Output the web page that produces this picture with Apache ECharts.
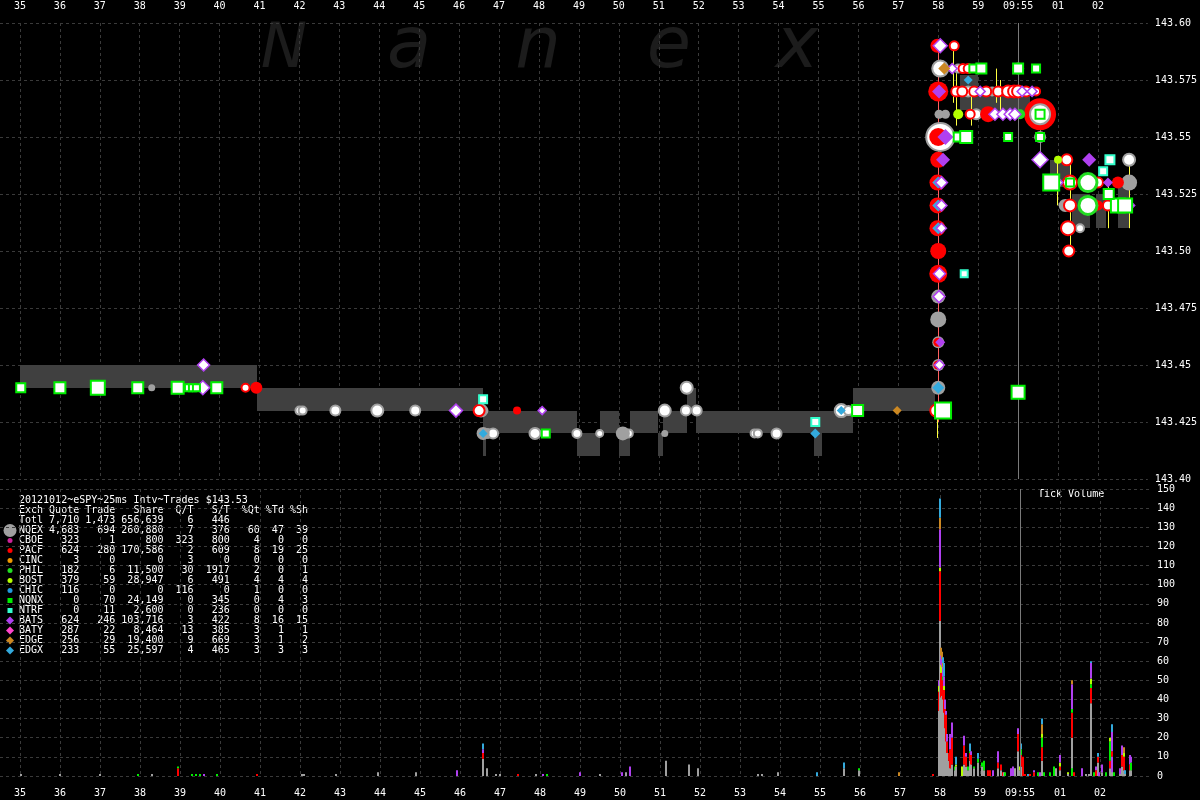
<!DOCTYPE html>
<html><head><meta charset="utf-8">
<script src="https://cdn.jsdelivr.net/npm/echarts@6/dist/echarts.min.js"></script>
<style>html,body{margin:0;background:#000}#c{width:1200px;height:800px}</style>
</head><body><div id="c"></div>
<script>
// ---------- axis ticks ----------
const secondTicks = [35,36,37,38,39,40,41,42,43,44,45,46,47,48,49,50,51,52,53,54,55,56,57,58,59,60,61,62];
const tickLabels  = ['35','36','37','38','39','40','41','42','43','44','45','46','47','48','49','50','51','52','53','54','55','56','57','58','59','09:55','01','02'];

// ---------- NBBO band (seconds after 09:54) ----------
const nbboStart = [35.0,40.925,46.6,46.675,48.95,49.525,50.0,50.275,50.975,51.1,51.7,51.925,54.9,55.1,55.875,58.55,59.0,60.8,61.35,61.95,62.5];
const nbboEnd   = [40.925,46.6,46.675,48.95,49.525,50.0,50.275,50.975,51.1,51.7,51.925,54.9,55.1,55.875,57.925,59.0,60.3,61.3,61.8,62.2,62.8];
const nbboBid   = [143.44,143.43,143.41,143.42,143.41,143.42,143.41,143.42,143.41,143.42,143.43,143.42,143.41,143.42,143.43,143.562,143.560,143.528,143.51,143.51,143.51];
const nbboAsk   = [143.45,143.44,143.43,143.43,143.42,143.43,143.42,143.43,143.42,143.43,143.44,143.43,143.43,143.43,143.44,143.577,143.568,143.54,143.525,143.525,143.528];

// ---------- trades [time, price, tradeSizeClass] ----------
const nqexTrades = [[42.0,143.43,8],[42.08,143.43,8],[42.9,143.43,10],[43.95,143.43,12],[44.9,143.43,10],
 [46.72,143.42,9],[46.85,143.42,10],[47.9,143.42,11],[48.95,143.42,9],[49.52,143.42,7],[50.25,143.42,8],
 [51.15,143.43,12],[51.7,143.44,12],[51.68,143.43,10],[51.95,143.43,10],[53.4,143.42,8],[53.48,143.42,8],[53.95,143.42,10],
 [55.57,143.43,13],[55.75,143.43,9],[58.05,143.58,16],[58.05,143.55,28],[58.5,143.58,8],[58.75,143.57,10],[58.95,143.56,10],
 [60.55,143.56,20],[61.55,143.51,8],[62.78,143.54,12],[46.55,143.43,12]];
const nqexQuotes = [[38.3,143.44,7],[46.62,143.43,9],[46.6,143.42,13],[50.1,143.42,14],[51.15,143.42,7],[58.02,143.56,9],[58.18,143.56,9],
 [58.0,143.48,14],[58.0,143.47,16],[58.0,143.46,12],[58.0,143.45,12],[58.0,143.44,14],[59.35,143.57,10],[60.0,143.58,12],
 [60.55,143.55,12],[61.18,143.52,13],[62.78,143.53,16],[61.9,143.53,10]];
const pacfFilled = [[40.92,143.44,12],[47.45,143.43,8],[57.98,143.59,14],[58.0,143.57,20],[58.0,143.55,18],[58.0,143.54,16],
 [57.98,143.53,16],[57.98,143.52,16],[57.98,143.51,16],[58.0,143.50,16],[58.0,143.49,18],[57.99,143.46,9],[57.99,143.45,9],
 [59.25,143.56,16],[59.6,143.57,10],[62.0,143.52,10],[62.5,143.53,12]];
const pacfBig = [[60.55,143.56,32]];
const pacfTrades = [[40.65,143.44,8],[46.5,143.43,11],[57.95,143.43,12],[58.4,143.59,9],[58.45,143.57,10],[58.6,143.57,10],[58.9,143.57,10],
 [59.2,143.57,10],[59.5,143.57,10],[59.75,143.57,12],[59.9,143.57,12],[60.0,143.57,12],[60.2,143.57,10],[60.45,143.57,8],
 [58.62,143.58,9],[58.75,143.58,9],[58.8,143.56,9],[61.22,143.54,11],[61.3,143.53,14],[61.3,143.52,12],[61.88,143.52,12],
 [62.25,143.52,10],[61.25,143.51,14],[61.27,143.50,11],[62.0,143.53,10],[38.95,143.44,7]];
const philTrades = [[61.75,143.53,18],[61.75,143.52,18]];
const philFilled = [[60.05,143.56,10]];
const bostFilled = [[58.5,143.56,10],[61.0,143.54,8]];
const batsTrades = [[39.6,143.45,12],[39.58,143.44,14],[45.92,143.43,13],[48.08,143.43,8],[58.05,143.59,14],[58.08,143.53,12],
 [58.08,143.52,11],[58.08,143.51,10],[58.03,143.49,12],[58.02,143.48,12],[58.03,143.45,10],[59.05,143.57,10],[60.1,143.57,10],
 [60.35,143.57,10],[58.35,143.58,10],[59.0,143.58,10],[59.42,143.56,12],[59.62,143.56,12],[59.8,143.56,12],[59.92,143.56,12],
 [60.55,143.54,16],[61.0,143.53,10],[62.82,143.52,8]];
const batsFilled = [[58.02,143.57,14],[58.18,143.55,16],[58.12,143.54,14],[58.05,143.46,10],[61.78,143.54,14],[62.25,143.53,10]];
const edgxFilled = [[46.6,143.42,9],[54.92,143.42,10],[55.57,143.43,9],[58.0,143.44,12],[58.0,143.53,12],[58.0,143.52,12],[58.0,143.51,12],[58.75,143.575,9]];
const edgeFilled = [[56.97,143.43,9],[58.15,143.58,12]];
const nqnxTrades = [[35.02,143.44,9],[36.0,143.44,11],[36.95,143.44,14],[37.95,143.44,11],[38.95,143.44,12],[39.22,143.44,7],
 [39.32,143.44,7],[39.42,143.44,7],[39.93,143.44,11],[48.17,143.42,8],[55.98,143.43,11],[58.12,143.43,16],[58.5,143.55,9],
 [58.7,143.55,12],[58.88,143.58,8],[59.08,143.58,10],[59.75,143.55,8],[60.0,143.58,10],[60.45,143.58,8],[60.55,143.56,9],
 [60.55,143.55,8],[60.0,143.438,13],[60.83,143.53,16],[61.3,143.53,8],[62.5,143.52,14],[62.68,143.52,14],[62.27,143.525,10]];
const ntrfTrades = [[46.6,143.435,8],[54.92,143.425,8],[58.65,143.49,7],[62.3,143.54,9],[62.13,143.535,8]];

// ---------- vertical trade links [time, low, high] ----------
const bostLinks = [[58.375,143.565,143.589],[58.45,143.555,143.578],[58.82,143.555,143.568],[59.45,143.565,143.58],[59.55,143.56,143.575],
 [60.975,143.52,143.54],[61.3,143.50,143.54],[62.25,143.51,143.53],[62.775,143.51,143.54],[57.98,143.418,143.428]];
const pacfLinks = [[58.0,143.425,143.59]];
const nqexLinks = [[60.0,143.55,143.58],[60.55,143.54,143.555]];

// ---------- tick volume per exchange [time, count] ----------
const volNQEX = [[35.02,1],[36.0,1],[37.01,1],[38.3,1],[42.05,1],[42.1,1],[42.9,1],[43.95,2],[44.9,2],[46.58,9],[46.68,4],[46.9,1],[47.0,1],[47.9,1],[49.5,1],[50.15,2],[51.15,8],[51.72,6],[51.95,4],[53.45,1],[53.55,1],[53.95,2],[55.6,4],[55.98,3],
 [57.98,34],[58.0,81],[58.03,41],[58.05,42],[58.08,40],[58.1,33],[58.12,25],[58.15,18],[58.18,12],[58.22,8],[58.26,4],[58.3,6],[58.38,3],[58.4,5],[58.61,6],[58.64,5],[58.69,3],[58.74,8],[58.78,6],[58.86,4],[58.95,7],[59.04,5],[59.1,3],[59.46,4],[59.52,3],[59.6,2],[59.88,4],[59.94,13],[59.99,3],[60.03,5],[60.55,8],[60.91,4],[61.01,3],[61.21,1],[61.29,20],[61.65,1],[61.73,1],[61.78,38],[61.94,7],[62.04,2],[62.26,4],[62.29,10],[62.31,2],[62.51,1],[62.54,5],[62.59,3],[62.63,1],[62.74,3],[62.78,3]];
const volPACF = [[38.95,4],[40.92,1],[46.58,3],[47.45,1],[57.83,1],[57.98,10],[58.0,26],[58.03,13],[58.05,12],[58.08,10],[58.1,12],[58.12,10],[58.15,14],[58.18,6],[58.22,4],[58.26,10],[58.3,14],[58.61,10],[58.64,5],[58.74,4],[58.78,5],[59.2,3],[59.25,3],[59.46,3],[59.52,3],[59.58,2],[59.94,9],[60.03,6],[60.08,10],[60.13,1],[60.25,1],[60.35,2],[60.55,7],[61.01,2],[61.29,13],[61.35,2],[61.78,8],[61.9,3],[61.94,3],[62.26,4],[62.29,3],[62.54,6],[62.59,7],[62.74,3]];
const volGreen = [[37.95,1],[38.95,1],[39.3,1],[39.4,1],[39.5,1],[39.93,1],[48.17,1],[55.98,1],[58.08,2],[58.38,2],[58.69,2],[58.74,1],[58.86,1],[58.95,2],[59.04,2],[59.1,5],[59.63,2],[60.03,3],[60.45,2],[60.55,5],[60.6,2],[60.76,2],[60.86,5],[61.29,2],[61.31,4],[61.78,2],[61.84,2],[62.14,2],[62.26,10],[62.36,2],[62.78,4]];
const volBOST = [[57.98,3],[58.0,2],[58.03,4],[58.05,3],[58.1,2],[58.4,1],[58.54,5],[59.99,2],[60.55,2],[61.01,2],[61.21,1],[61.78,3],[62.24,1],[62.26,2],[62.59,2]];
const volBATS = [[39.6,1],[45.92,3],[46.58,2],[48.08,1],[49.0,2],[50.05,2],[50.25,5],[57.98,3],[58.0,20],[58.03,5],[58.05,4],[58.08,5],[58.1,5],[58.12,5],[58.15,2],[58.18,4],[58.26,8],[58.3,8],[58.61,5],[58.64,2],[58.78,2],[59.33,3],[59.46,6],[59.78,4],[59.83,5],[59.94,3],[60.35,1],[60.51,2],[61.01,4],[61.29,13],[61.55,4],[61.78,8],[61.9,2],[61.98,2],[62.04,4],[62.29,10],[62.31,8],[62.51,3],[62.54,5],[62.74,5],[62.78,3]];
const volEDGE = [[56.97,2],[58.0,6],[58.03,4],[58.05,4],[58.08,2],[60.55,5],[61.29,2],[62.59,3]];
const volEDGX = [[46.58,3],[54.92,2],[55.6,3],[58.0,10],[58.08,3],[58.1,7],[58.4,4],[58.74,4],[58.95,3],[60.03,3],[60.19,1],[60.55,3],[61.78,1],[61.94,2],[62.29,4],[62.63,2]];

// ---------- summary table ----------
const tableTitle = '20121012~eSPY~25ms Intv~Trades $143.53';
const tableHeader = ['Exch','Quote','Trade','Share','Q/T','S/T','%Qt','%Td','%Sh'];
const tableRows = [
 ['Totl','7,710','1,473','656,639','6','446','','',''],
 ['NQEX','4,683','694','260,880','7','376','60','47','39'],
 ['CBOE','323','1','800','323','800','4','0','0'],
 ['PACF','624','280','170,586','2','609','8','19','25'],
 ['CINC','3','0','0','3','0','0','0','0'],
 ['PHIL','182','6','11,500','30','1917','2','0','1'],
 ['BOST','379','59','28,947','6','491','4','4','4'],
 ['CHIC','116','0','0','116','0','1','0','0'],
 ['NQNX','0','70','24,149','0','345','0','4','3'],
 ['NTRF','0','11','2,600','0','236','0','0','0'],
 ['BATS','624','246','103,716','3','422','8','16','15'],
 ['BATY','287','22','8,464','13','385','3','1','1'],
 ['EDGE','256','29','19,400','9','669','3','1','2'],
 ['EDGX','233','55','25,597','4','465','3','3','3']
];
const watermarkLetters = ['N','a','n','e','x'];

// ================= styling / building =================
const C = {gray:'#a0a0a0', red:'#ff0000', green:'#22dd22', nqnx:'#00ee00', bost:'#b4ff00', bats:'#b040f0', edge:'#cc8822', edgx:'#33aadd', ntrf:'#33ffcc', cboe:'#cc2299', cinc:'#ee9900', baty:'#ff44cc', chic:'#2299dd'};
const FONT = '"DejaVu Sans Mono", monospace';
const XMIN = 34.5, XMAX = 63.25;

const chart = echarts.init(document.getElementById('c'), null, {renderer:'canvas'});

function scat(name, data, symbol, fill, border, bw, z) {
  return {type:'scatter', name, xAxisIndex:0, yAxisIndex:0, data, symbol, clip:false,
    symbolSize: v => v[2], z: z || 3,
    itemStyle:{color:fill, borderColor:border || fill, borderWidth: bw || 0, opacity:1},
    emphasis:{disabled:true}, animation:false};
}
function links(name, data, color) {
  return {type:'custom', name, xAxisIndex:0, yAxisIndex:0, data, z:2, animation:false,
    encode:{x:0, y:[1,2]},
    renderItem(params, api) {
      const a = api.coord([api.value(0), api.value(1)]);
      const b = api.coord([api.value(0), api.value(2)]);
      const x = Math.round(a[0]) + 0.5;
      return {type:'line', shape:{x1:x, y1:a[1], x2:x, y2:b[1]}, style:{stroke:color, lineWidth:1}};
    }};
}

const bandData = nbboStart.map((s,i) => [s, nbboEnd[i], nbboBid[i], nbboAsk[i]]);

const volSets = [volNQEX, volPACF, volGreen, volBOST, volBATS, volEDGE, volEDGX];
const volColors = [C.gray, C.red, C.nqnx, C.bost, C.bats, C.edge, C.edgx];
const tSet = new Set();
volSets.forEach(a => a.forEach(p => tSet.add(p[0])));
const volTimes = Array.from(tSet).sort((a,b)=>a-b);
const volRows = volTimes.map(t => [t].concat(volSets.map(a => a.filter(p=>p[0]===t).reduce((s,p)=>s+p[1],0))));

const xAxisCommon = {
  type:'value', min:XMIN, max:XMAX,
  axisLine:{show:false}, axisTick:{show:false, customValues:secondTicks},
  axisLabel:{customValues:secondTicks, color:'#fff', fontFamily:FONT, fontSize:10,
    formatter: v => { const i = secondTicks.indexOf(Math.round(v)); return i>=0 ? tickLabels[i] : ''; }},
  splitLine:{show:true, customValues:secondTicks, lineStyle:{color:'#3a3a3a', type:[3,3], width:1}}
};

function priceFmt(v){ const s = v.toFixed(3); return s.endsWith('0') ? v.toFixed(2) : s; }

const vline = (xi, yi) => ({type:'line', xAxisIndex:xi, yAxisIndex:yi, data:[], animation:false,
  markLine:{silent:true, symbol:'none', animation:false, label:{show:false},
    lineStyle:{color:'#7a7a7a', type:'solid', width:1}, data:[{xAxis:60}]}});

// graphic: watermark + table
const graphics = [];
const wmX = [284, 409, 538, 669, 797];
watermarkLetters.forEach((ch,i) => {
  const upper = ch === ch.toUpperCase();
  graphics.push({type:'text', x:wmX[i], y: upper ? 82 : 84, z:-10, silent:true,
    style:{text:ch, fill:'#1c1c1c', font:'italic ' + (upper ? 62 : 72) + 'px "DejaVu Sans", sans-serif', align:'center', verticalAlign:'bottom'}});
});

function fmtRow(r){
  return r[0].padEnd(4) + r[1].padStart(6) + r[2].padStart(6) + r[3].padStart(8) + r[4].padStart(5) + r[5].padStart(6) + r[6].padStart(5) + r[7].padStart(4) + r[8].padStart(4);
}
const lines = [tableTitle, fmtRow(tableHeader)].concat(tableRows.map(fmtRow));
lines.forEach((t,i) => graphics.push({type:'text', x:19, y:500.5 + i*10, silent:true,
  style:{text:t, fill:'#ffffff', font:'10px ' + FONT, verticalAlign:'middle'}}));

// legend icons per table row (skip Totl)
const icons = [
  ['circle', C.gray, 6.5], ['circle', C.cboe, 2.5], ['circle', C.red, 2.5], ['circle', C.cinc, 2.5],
  ['circle', C.green, 2.5], ['circle', C.bost, 2.5], ['circle', C.chic, 2.5], ['rect', C.nqnx, 5],
  ['rect', C.ntrf, 5], ['diamond', C.bats, 4], ['diamond', C.baty, 4], ['diamond', C.edge, 4], ['diamond', C.edgx, 4]
];
icons.forEach((ic,i) => {
  const cy = 500.5 + (i+3)*10, cx = 10;
  if (ic[0]==='circle') graphics.push({type:'circle', shape:{cx, cy, r:ic[2]}, style:{fill:ic[1]}, silent:true});
  else if (ic[0]==='rect') graphics.push({type:'rect', shape:{x:cx-ic[2]/2, y:cy-ic[2]/2, width:ic[2], height:ic[2]}, style:{fill:ic[1]}, silent:true});
  else graphics.push({type:'polygon', shape:{points:[[cx,cy-ic[2]],[cx+ic[2],cy],[cx,cy+ic[2]],[cx-ic[2],cy]]}, style:{fill:ic[1]}, silent:true});
});
graphics.push({type:'text', x:1038, y:494, silent:true, style:{text:'Tick Volume', fill:'#fff', font:'10px ' + FONT, verticalAlign:'middle'}});

const option = {
  backgroundColor:'#000',
  animation:false,
  grid:[
    {left:0, right:50, top:23, height:456},
    {left:0, right:50, top:489, height:287}
  ],
  xAxis:[
    Object.assign({}, xAxisCommon, {gridIndex:0, position:'top', axisLabel:Object.assign({}, xAxisCommon.axisLabel, {margin:12})}),
    Object.assign({}, xAxisCommon, {gridIndex:1, position:'bottom', axisLabel:Object.assign({}, xAxisCommon.axisLabel, {margin:12})})
  ],
  yAxis:[
    {type:'value', gridIndex:0, position:'right', min:143.4, max:143.6, interval:0.025,
     axisLine:{show:false}, axisTick:{show:false},
     axisLabel:{color:'#fff', fontFamily:FONT, fontSize:10, margin:7, formatter:priceFmt, showMinLabel:true, showMaxLabel:true},
     splitLine:{show:true, lineStyle:{color:'#3a3a3a', type:[3,3], width:1}}},
    {type:'value', gridIndex:1, position:'right', min:0, max:150, interval:10,
     axisLine:{show:false}, axisTick:{show:false},
     axisLabel:{color:'#fff', fontFamily:FONT, fontSize:10, margin:7, showMinLabel:true, showMaxLabel:true},
     splitLine:{show:true, lineStyle:{color:'#3a3a3a', type:[3,3], width:1}}}
  ],
  graphic: graphics,
  series:[
    {type:'custom', name:'NBBO', xAxisIndex:0, yAxisIndex:0, data:bandData, z:1, animation:false,
     encode:{x:[0,1], y:[2,3]},
     renderItem(params, api){
       const p0 = api.coord([api.value(0), api.value(3)]);
       const p1 = api.coord([api.value(1), api.value(2)]);
       return {type:'rect', shape:{x:Math.round(p0[0]), y:Math.round(p0[1]), width:Math.round(p1[0])-Math.round(p0[0]), height:Math.round(p1[1])-Math.round(p0[1])}, style:{fill:'#404040'}};
     }},
    vline(0,0),
    vline(1,1),
    links('PACF link', pacfLinks, '#ff6060'),
    links('BOST link', bostLinks, '#ffff40'),
    links('NQEX link', nqexLinks, '#909090'),
    scat('PACF big', pacfBig, 'circle', C.red, C.red, 0, 3),
    scat('NQEX', nqexTrades, 'circle', '#ffffff', C.gray, 2, 4),
    scat('NQEX q', nqexQuotes, 'circle', C.gray, C.gray, 0, 4),
    scat('PACF', pacfFilled, 'circle', C.red, C.red, 0, 5),
    scat('PACF t', pacfTrades, 'circle', '#ffffff', C.red, 2, 5),
    scat('PHIL t', philTrades, 'circle', '#ffffff', C.green, 3, 5),
    scat('PHIL', philFilled, 'circle', C.green, C.green, 0, 5),
    scat('BOST', bostFilled, 'circle', C.bost, C.bost, 0, 5),
    scat('EDGX', edgxFilled, 'diamond', C.edgx, C.edgx, 0, 6),
    scat('BATS', batsFilled, 'diamond', C.bats, C.bats, 0, 6),
    scat('BATS t', batsTrades, 'diamond', '#ffffff', C.bats, 1.5, 6),
    scat('EDGE', edgeFilled, 'diamond', C.edge, C.edge, 0, 6),
    scat('NQNX', nqnxTrades, 'rect', '#ffffff', C.nqnx, 2, 7),
    scat('NTRF', ntrfTrades, 'rect', '#ffffff', C.ntrf, 2, 7),
    {type:'custom', name:'Tick Volume', xAxisIndex:1, yAxisIndex:1, data:volRows, z:3, animation:false,
     encode:{x:0, y:1},
     renderItem(params, api){
       const t = api.value(0);
       const children = [];
       let base = 0;
       for (let k=1; k<=volColors.length; k++){
         const v = api.value(k);
         if (v > 0){
           const a = api.coord([t, base]);
           const b = api.coord([t, base+v]);
           const x = Math.round(a[0]) - 1;
           children.push({type:'rect', shape:{x, y:b[1], width:2, height:a[1]-b[1]}, style:{fill:volColors[k-1]}});
           base += v;
         }
       }
       return {type:'group', children};
     }}
  ]
};
chart.setOption(option);
</script>
</body></html>
